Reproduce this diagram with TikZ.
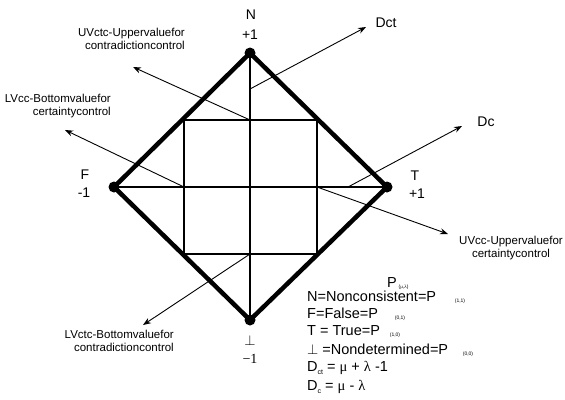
\documentclass[tikz,border=0pt]{standalone}
\usepackage{fontspec}
\setmainfont{Liberation Sans}
\newfontfamily\serifx{Liberation Serif}
\usetikzlibrary{arrows.meta}
\begin{document}
\begin{tikzpicture}[x=1pt,y=-1pt,
  frame/.style={line width=4.5pt, line join=miter},
  gridline/.style={line width=2pt},
  ptr/.style={line width=0.9pt, -{Stealth[length=8pt,width=6pt]}},
  dot/.style={circle, fill=black, inner sep=0pt, minimum size=11pt},
  lbl/.style={font=\fontsize{11.5}{13}\selectfont, inner sep=0pt},
  vlab/.style={font=\fontsize{14}{16}\selectfont, inner sep=0pt},
  slab/.style={font=\serifx\fontsize{14}{16}\selectfont, inner sep=0pt},
  leg/.style={font=\fontsize{14.5}{17}\selectfont, anchor=west, inner sep=0pt},
  subx/.style={font=\fontsize{5}{6}\selectfont, inner sep=0pt}]
\useasboundingbox (0,0) rectangle (565,399);

% diamond corners
\coordinate (N) at (250,53);
\coordinate (F) at (114,187);
\coordinate (T) at (387,187);
\coordinate (B) at (250,320);
% inner square
\coordinate (s1) at (184,120);
\coordinate (s2) at (317,120);
\coordinate (s3) at (317,254);
\coordinate (s4) at (184,254);
\coordinate (ctop) at (250,120);
\coordinate (cbot) at (250,254);
\coordinate (cleft) at (184,187);
\coordinate (cright) at (317,187);
\coordinate (dctstart) at (250,89);
\coordinate (dcstart) at (348,187);
% arrow ends
\coordinate (uvctcTip) at (133,67);
\coordinate (lvccTip) at (65,130);
\coordinate (lvctcTip) at (143,325);
\coordinate (uvccTip) at (448,234);
\coordinate (dctTip) at (366,27);
\coordinate (dcTip) at (462,126);

% grid
\draw[gridline] (s1) -- (s2) -- (s3) -- (s4) -- cycle;
\draw[gridline] (N) -- (B);
\draw[gridline] (F) -- (T);

% pointers
\draw[ptr] (ctop) -- (uvctcTip);
\draw[ptr] (cleft) -- (lvccTip);
\draw[ptr] (cbot) -- (lvctcTip);
\draw[ptr] (cright) -- (uvccTip);
\draw[ptr] (dctstart) -- (dctTip);
\draw[ptr] (dcstart) -- (dcTip);

% frame
\draw[frame] (N) -- (T) -- (B) -- (F) -- cycle;
\node[dot] (nN) at (N) {};
\node[dot] (nF) at (F) {};
\node[dot] (nT) at (T) {};
\node[dot] (nB) at (B) {};

% vertex labels
\node[vlab] (lN) at (251,15) {N};
\node[vlab] (lN1) at (250,35) {+1};
\node[vlab] (lF) at (85,175) {F};
\node[vlab] (lF1) at (84,193) {-1};
\node[vlab] (lT) at (415,176) {T};
\node[vlab] (lT1) at (417,194) {+1};
\node[vlab] (lB) at (250,340) {$\perp$};
\node[slab] (lB1) at (250,359) {−1};
\node[vlab] (lDct) at (386,23) {Dct};
\node[vlab] (lDc) at (486,122) {Dc};

% pointer labels
\node[lbl, align=right, anchor=east] (tUVctc) at (185,39) {UVctc-Uppervaluefor\\contradictioncontrol};
\node[lbl, align=right, anchor=east] (tLVcc) at (111,106) {LVcc-Bottomvaluefor\\certaintycontrol};
\node[lbl, align=right, anchor=east] (tLVctc) at (174,341) {LVctc-Bottomvaluefor\\contradictioncontrol};
\node[lbl, align=center] (tUVcc) at (511,248) {UVcc-Uppervaluefor\\certaintycontrol};

% legend
\node[leg] (gP) at (387,282.5) {P};
\node[subx, anchor=west] (gPs) at (398.5,287.5) {({\serifx μ},{\serifx λ})};
\node[leg] (g1) at (307,296) {N=Nonconsistent=P};
\node[subx] (g1s) at (460,301) {(1,1)};
\node[leg] (g2) at (307,313) {F=False=P};
\node[subx] (g2s) at (400,318) {(0,1)};
\node[leg] (g3) at (307,331) {T = True=P};
\node[subx] (g3s) at (395,335) {(1,0)};
\node[leg] (g4) at (307,349) {$\perp$ =Nondetermined=P};
\node[subx] (g4s) at (468,354) {(0,0)};
\node[leg] (g5) at (307,368) {D\raisebox{-2.5pt}{\fontsize{7}{7}\selectfont ct} = {\serifx μ} + {\serifx λ} -1};
\node[leg] (g6) at (307,387) {D\raisebox{-2.5pt}{\fontsize{7}{7}\selectfont c} = {\serifx μ} - {\serifx λ}};
\end{tikzpicture}
\end{document}
